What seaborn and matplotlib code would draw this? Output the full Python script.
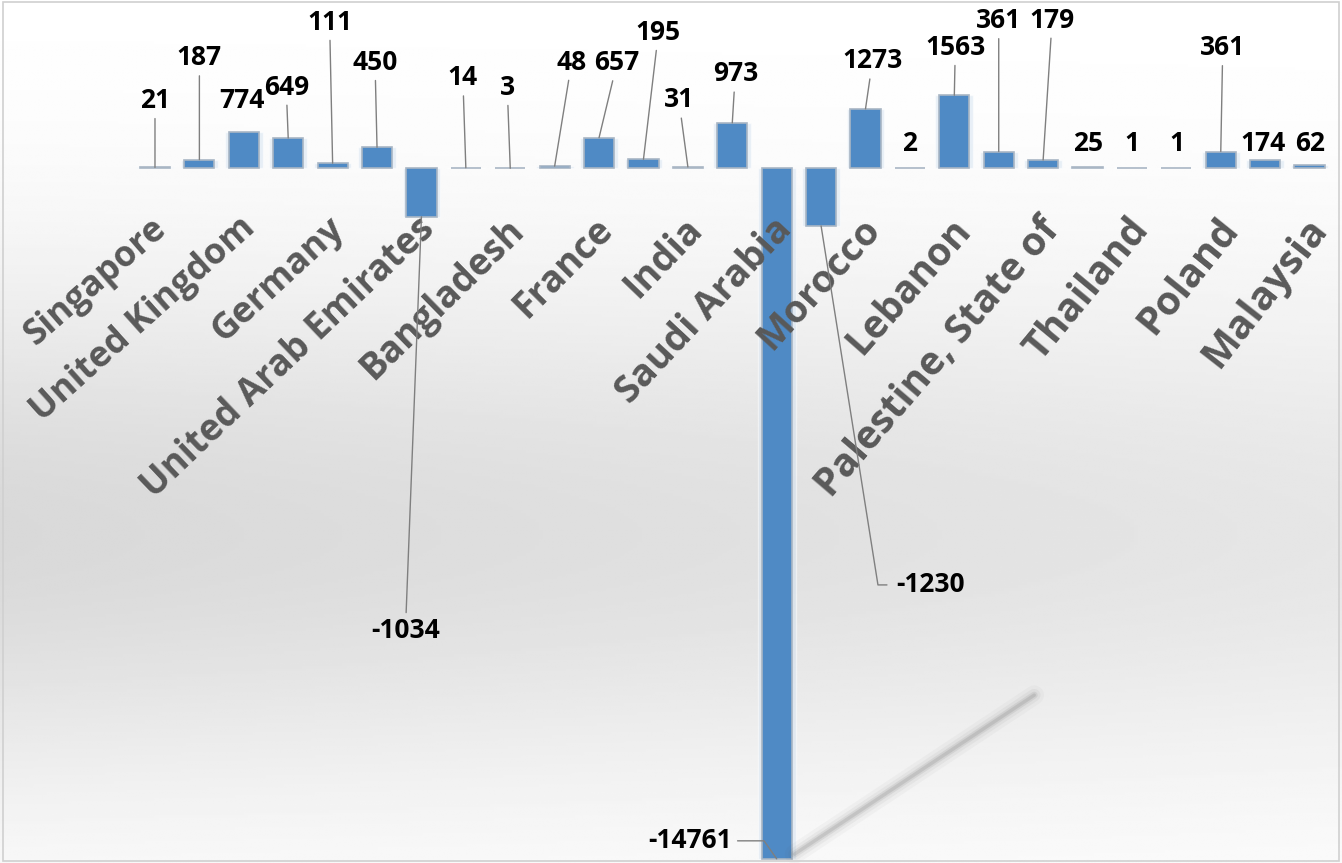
import numpy as np
import matplotlib
matplotlib.use("Agg")
import matplotlib.pyplot as plt
import seaborn as sns

# countries in chart order (only every other one is labelled on the axis)
countries = ["Singapore", "", "United Kingdom", "", "Germany", "", "United Arab Emirates", "",
             "Bangladesh", "", "France", "", "India", "", "Saudi Arabia", "", "Morocco", "",
             "Lebanon", "", "Palestine, State of", "", "Thailand", "", "Poland", "", "Malaysia"]
values = [21, 187, 774, 649, 111, 450, -1034, 14, 3, 48, 657, 195, 31, 973, -14761,
          -1230, 1273, 2, 1563, 361, 179, 25, 1, 1, 361, 174, 62]

# label offsets in pixels from the bar end (dx, dy up), as placed in the original
label_offsets = [(0, 67), (0, 102), (-2, 32), (-2, 51), (-3, 141), (-2, 85), (-16, -414),
                 (-3, 90), (-3, 81), (17, 104), (18, 75), (15, 127), (-9, 67), (3, 49),
                 (-87, 18), (109, -359), (7, 48), (0, 25), (1, 48), (0, 131), (9, 140),
                 (1, 24), (0, 25), (1, 25), (2, 104), (-2, 17), (1, 22)]

sns.set_style("white")
plt.rcParams["font.family"] = ["Open Sans", "DejaVu Sans"]

fig = plt.figure(figsize=(13.42, 8.63), dpi=100)

# soft grey background like the office chart style
bg = fig.add_axes([0, 0, 1, 1], zorder=-5)
yy = np.linspace(0, 1, 300)[:, None]
xx = np.linspace(0, 1, 300)[None, :]
shade = 1 - 0.15 * np.exp(-((yy - 0.62) / 0.30) ** 2) * (1 - 0.35 * xx)
bg.imshow(shade, cmap="gray", vmin=0, vmax=1, aspect="auto", extent=[0, 1, 0, 1])
bg.set_axis_off()

ax = fig.add_axes([0, 0, 1, 1])
ax.patch.set_alpha(0)
pos = np.arange(len(values))

# faint glow behind the bars
sns.barplot(x=pos, y=values, color="#cfe3f7", width=0.85, errorbar=None, ax=ax, alpha=0.5)
sns.barplot(x=pos, y=values, color="#3c8ad8", width=0.68, errorbar=None, ax=ax,
            edgecolor="#a9b6c4", linewidth=1.2)

ax.set_xlim(-3.49, 26.73)
ax.set_ylim(-14850, 3600)
ax.set_xticks([])
ax.set_yticks([])
ax.set_xlabel("")
ax.set_ylabel("")
for s in ax.spines.values():
    s.set_visible(False)

# shadow streak thrown by the large negative bar
big = int(np.argmin(values))
for lw, a in [(14, 0.04), (9, 0.06), (5, 0.10), (2.5, 0.14)]:
    ax.plot([big + 0.4, big + 5.8], [values[big] + 100, values[big] + 3500],
            color="#555555", lw=lw, alpha=a, solid_capstyle="round", zorder=1)

# value labels with leader lines
for i, (v, (dx, dy)) in enumerate(zip(values, label_offsets)):
    draw_line = abs(dy) > 35
    props = dict(arrowstyle="-", color="#7f7f7f", lw=1, shrinkA=1, shrinkB=0) if draw_line else None
    if i == big:
        props = dict(arrowstyle="-", color="#7f7f7f", lw=1, shrinkA=2, shrinkB=0,
                     connectionstyle="angle,angleA=0,angleB=125,rad=0")
    if v == -1230:
        props = dict(arrowstyle="-", color="#7f7f7f", lw=1, shrinkA=4, shrinkB=0,
                     connectionstyle="angle,angleA=0,angleB=99,rad=0")
    ax.annotate(str(v), xy=(i, v), xytext=(dx, dy), textcoords="offset pixels",
                ha="center", va="center", fontsize=19, fontweight="bold", color="black",
                arrowprops=props, zorder=5)

# rotated category names under the zero line (the original has a slight perspective tilt)
n = len(countries)
for i, name in enumerate(countries):
    if not name:
        continue
    t = i / (n - 1)
    ax.annotate(name, xy=(i, 0), xytext=(-5, -42), textcoords="offset pixels",
                ha="right", va="top", rotation=41 + 11 * t, rotation_mode="anchor",
                fontsize=25.5 + 3.5 * t, fontweight="bold", color="#595959", zorder=4)

# thin frame round the chart area
frame = plt.Rectangle((0.002, 0.002), 0.996, 0.996, transform=fig.transFigure,
                      fill=False, edgecolor="#d0d0d0", lw=1.2)
fig.patches.append(frame)

fig.savefig("out.png", dpi=100)
